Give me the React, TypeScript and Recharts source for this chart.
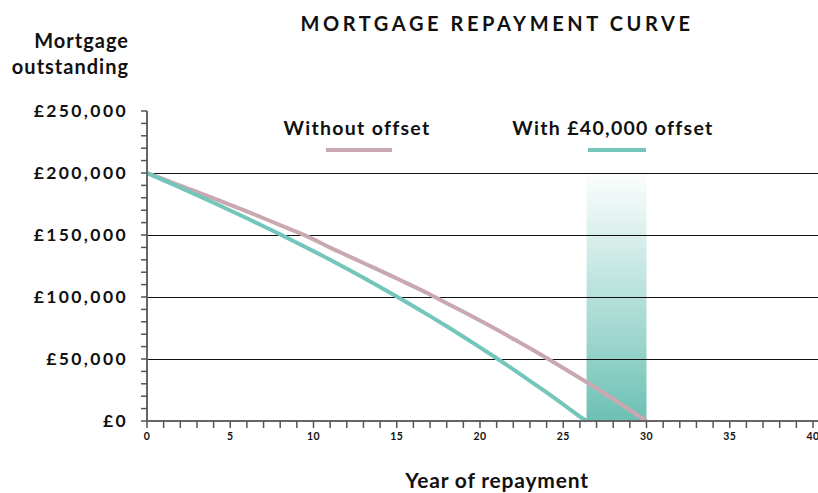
import { LineChart, Line, XAxis, YAxis, ReferenceLine, ReferenceArea } from "recharts";

const withoutYears = [0, 1, 2, 3, 4, 5, 6, 7, 8, 9, 10, 11, 12, 13, 14, 15, 16, 17, 18, 19, 20, 21, 22, 23, 24, 25, 26, 27, 28, 29, 30];
const withoutOffset = [200000, 195000, 189800, 184700, 179500, 174300, 169000, 163500, 158000, 152500, 146500, 139800, 133600, 127400, 121300, 115000, 108600, 102000, 95000, 88100, 81000, 73700, 66200, 58600, 50800, 42800, 34600, 26300, 17700, 8900, 0];

const withYears = [0, 1, 2, 3, 4, 5, 6, 7, 8, 9, 10, 11, 12, 13, 14, 15, 16, 17, 18, 19, 20, 21, 22, 23, 24, 25, 26, 26.4];
const withOffset = [200000, 194000, 188200, 182200, 176000, 169800, 163500, 157000, 150500, 143800, 137000, 130000, 122800, 115500, 108000, 100400, 92600, 84600, 76400, 68000, 59400, 50600, 41600, 32400, 23000, 13400, 3600, 0];

const yTicks = [0, 10000, 20000, 30000, 40000, 50000, 60000, 70000, 80000, 90000, 100000, 110000, 120000, 130000, 140000, 150000, 160000, 170000, 180000, 190000, 200000, 210000, 220000, 230000, 240000, 250000];
const xTicks = Array.from({ length: 41 }, (_, i) => i);
const gridValues = [50000, 100000, 150000, 200000];
const band = { from: 26.4, to: 30 };

const withoutData = withoutYears.map((year, i) => ({ year, value: withoutOffset[i] }));
const withData = withYears.map((year, i) => ({ year, value: withOffset[i] }));

const PINK = "#c9a8b2";
const TEAL = "#74c6ba";
const FONT = "Lato, sans-serif";

const txt = { position: "absolute", fontFamily: FONT, fontWeight: 700, color: "#111", whiteSpace: "nowrap" } as const;

export default function App() {
    return (
        <div style={{ position: "absolute", left: 0, top: 0, width: 818, height: 493, background: "#fff", overflow: "hidden" }}>
            <LineChart
                width={818}
                height={493}
                margin={{ top: 111, right: 0, left: 0, bottom: 0 }}
            >
                <defs>
                    <linearGradient id="bandGrad" x1="0" y1="0" x2="0" y2="1">
                        <stop offset="0%" stopColor={TEAL} stopOpacity={0.02} />
                        <stop offset="100%" stopColor="#6cc0b3" stopOpacity={1} />
                    </linearGradient>
                </defs>
                <XAxis
                    type="number"
                    dataKey="year"
                    domain={[0, 40.3]}
                    ticks={xTicks}
                    interval={0}
                    height={72}
                    tickSize={7}
                    tickMargin={5}
                    axisLine={{ stroke: "#666", strokeWidth: 2 }}
                    tickLine={{ stroke: "#555", strokeWidth: 1.5 }}
                    tickFormatter={(v) => (v % 5 === 0 ? String(v) : "")}
                    tick={{ fill: "#111", fontSize: 10.5, fontWeight: 700, fontFamily: FONT, letterSpacing: 0.5 }}
                    allowDuplicatedCategory={false}
                />
                <YAxis
                    type="number"
                    domain={[0, 250000]}
                    ticks={yTicks}
                    interval={0}
                    width={147}
                    tickSize={6}
                    tickMargin={13}
                    axisLine={{ stroke: "#666", strokeWidth: 2 }}
                    tickLine={{ stroke: "#555", strokeWidth: 1.5 }}
                    tickFormatter={(v) => (v % 50000 === 0 ? "£" + v.toLocaleString("en-GB") : "")}
                    tick={{ fill: "#111", fontSize: 17.5, fontWeight: 700, fontFamily: FONT, letterSpacing: 2.4 }}
                />
                <ReferenceArea x1={band.from} x2={band.to} y1={0} y2={200000} fill="url(#bandGrad)" fillOpacity={1} stroke="none" />
                {gridValues.map((v) => (
                    <ReferenceLine key={v} y={v} stroke="#111" strokeWidth={1} shapeRendering="crispEdges" />
                ))}
                <Line data={withoutData} dataKey="value" type="monotone" stroke={PINK} strokeWidth={4} dot={false} isAnimationActive={false} />
                <Line data={withData} dataKey="value" type="monotone" stroke={TEAL} strokeWidth={4} dot={false} isAnimationActive={false} />
            </LineChart>

            <div style={{ ...txt, left: 0, width: 818, top: 11, textAlign: "center", fontSize: 20, letterSpacing: 3.6, paddingLeft: 176, boxSizing: "border-box" }}>
                MORTGAGE REPAYMENT CURVE
            </div>
            <div style={{ ...txt, right: 818 - 129, top: 26.5, textAlign: "right", fontSize: 20, lineHeight: "26px", letterSpacing: 1 }}>
                Mortgage
                <br />
                outstanding
            </div>

            <div style={{ ...txt, left: 357 - 100, width: 200, top: 116, textAlign: "center", fontSize: 19.5, letterSpacing: 1.3 }}>
                Without offset
            </div>
            <div style={{ position: "absolute", left: 326, top: 148, width: 66, height: 4, background: PINK }} />
            <div style={{ ...txt, left: 613 - 130, width: 260, top: 116, textAlign: "center", fontSize: 19.5, letterSpacing: 1.3 }}>
                With £40,000 offset
            </div>
            <div style={{ position: "absolute", left: 588, top: 148, width: 58, height: 4, background: TEAL }} />

            <div style={{ ...txt, left: 0, width: 818, top: 467, textAlign: "center", fontSize: 21, letterSpacing: 0.8, paddingLeft: 176, boxSizing: "border-box" }}>
                Year of repayment
            </div>
        </div>
    );
}
